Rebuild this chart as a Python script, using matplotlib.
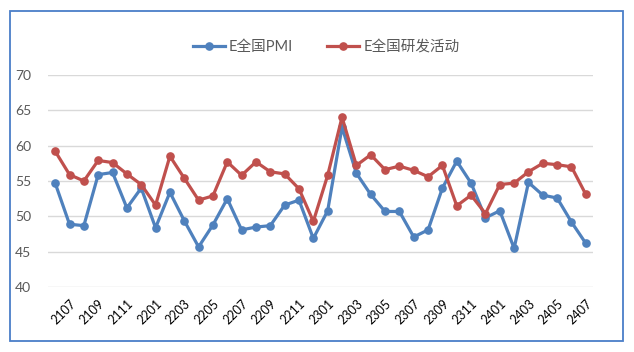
import matplotlib
matplotlib.use('Agg')
import matplotlib.pyplot as plt
import matplotlib.patches as patches

plt.rcParams['font.family'] = ['Lato', 'Noto Sans CJK SC', 'DejaVu Sans']

# months (yymm), first point is 2106
months = ['2106', '2107', '2108', '2109', '2110', '2111', '2112',
          '2201', '2202', '2203', '2204', '2205', '2206', '2207', '2208', '2209', '2210', '2211', '2212',
          '2301', '2302', '2303', '2304', '2305', '2306', '2307', '2308', '2309', '2310', '2311', '2312',
          '2401', '2402', '2403', '2404', '2405', '2406', '2407']

pmi = [54.7, 48.9, 48.7, 55.9, 56.2, 51.2, 54.0, 48.4, 53.4, 49.4, 45.7, 48.8, 52.5,
       48.1, 48.5, 48.7, 51.6, 52.3, 46.9, 50.8, 62.6, 56.1, 53.1, 50.7, 50.7, 47.1,
       48.1, 54.0, 57.8, 54.7, 49.8, 50.8, 45.5, 54.8, 53.0, 52.6, 49.2, 46.2]

rd = [59.2, 55.9, 55.0, 57.9, 57.6, 56.0, 54.5, 51.6, 58.5, 55.4, 52.3, 52.9, 57.7,
      55.8, 57.7, 56.3, 56.0, 53.9, 49.3, 55.8, 64.0, 57.2, 58.7, 56.6, 57.1, 56.5,
      55.6, 57.2, 51.5, 53.0, 50.4, 54.5, 54.7, 56.3, 57.5, 57.3, 57.0, 53.1]

W, H = 634, 352
fig = plt.figure(figsize=(W / 100, H / 100), dpi=100)
ax = fig.add_axes([48 / W, 1 - 287.3 / H, (593 - 48) / W, (287.3 - 74.7) / H])

x = range(len(months))
ax.plot(x, pmi, color='#4F81BD', lw=2.3, marker='o', ms=5.2, label='E全国PMI', zorder=3)
ax.plot(x, rd, color='#C0504D', lw=2.3, marker='o', ms=5.2, label='E全国研发活动', zorder=3)

ax.set_xlim(-0.5, len(months) - 0.5)
ax.set_ylim(40, 70)
ax.set_yticks(range(40, 71, 5))
ax.grid(axis='y', color='#D9D9D9', lw=1)
ax.set_axisbelow(True)
for s in ax.spines.values():
    s.set_visible(False)

ax.set_xticks(list(x)[1::2])
ax.set_xticklabels(months[1::2], rotation=45, ha='right', rotation_mode='anchor', fontsize=9)
ax.tick_params(axis='x', length=0, pad=7)
ax.tick_params(axis='y', length=0, pad=12, labelcolor='#595959', labelsize=10)

fig.legend(loc='center', bbox_to_anchor=(326 / W, 1 - 46.7 / H), ncol=2, frameon=False,
           fontsize=10.5, labelcolor='#595959', handlelength=2.2, columnspacing=2.3, handletextpad=0.3)

# outer border
fig.patches.append(patches.Rectangle((9.5 / W, 1 - 341 / H), (623 - 9.5) / W, (341 - 10.5) / H,
                                     transform=fig.transFigure, fill=False, ec='#4A7EC8', lw=1.3))

plt.savefig('out.png', dpi=100)
